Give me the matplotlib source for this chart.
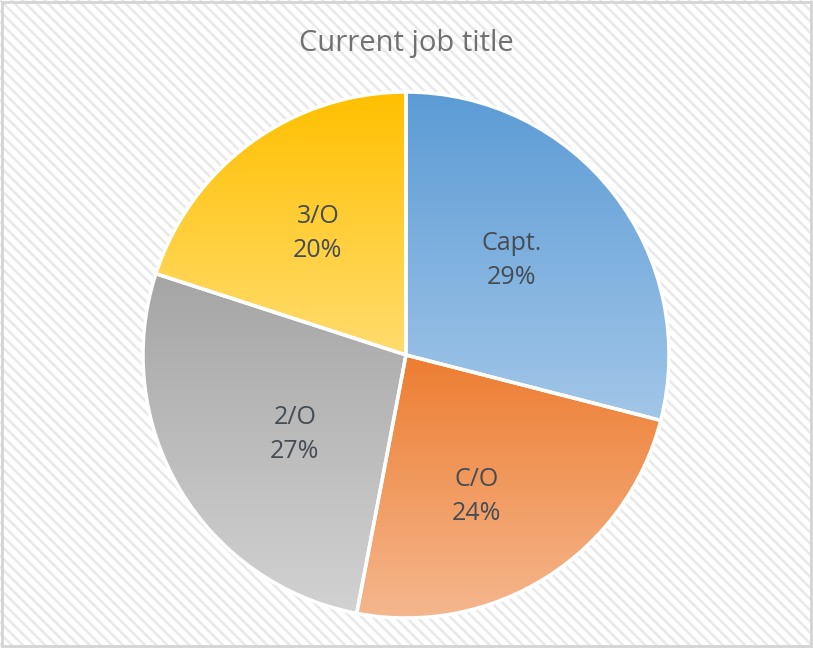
import numpy as np
import matplotlib.pyplot as plt
from matplotlib.patches import Rectangle
from matplotlib.colors import LinearSegmentedColormap

# job title shares (%)
titles = ["Capt.", "C/O", "2/O", "3/O"]
shares = [29, 24, 27, 20]
# top / bottom colours of each slice gradient
top_colors = ["#5B9BD5", "#ED7D31", "#A5A5A5", "#FFC000"]
bottom_colors = ["#A2C6E8", "#F5B78E", "#D2D2D2", "#FFDC6E"]
# label placement inside each slice: fraction of radius, angle shift (deg)
label_r = [0.54, 0.60, 0.52, 0.57]
label_shift = [4, -6, 5, 0]

plt.rcParams['font.family'] = ['Open Sans', 'DejaVu Sans']
plt.rcParams['hatch.linewidth'] = 1.8
plt.rcParams['hatch.color'] = '#e9e9e9'

W, H = 813, 648
fig = plt.figure(figsize=(W / 100, H / 100), dpi=100)
fig.patch.set_facecolor('white')

# striped chart area with a thin grey frame
fig.patches.append(Rectangle((0, 0), 1, 1, transform=fig.transFigure,
                             facecolor='white', hatch='\\\\\\', edgecolor='#e9e9e9',
                             linewidth=0, zorder=-5))
fig.patches.append(Rectangle((0.002, 0.003), 0.996, 0.994, transform=fig.transFigure,
                             facecolor='none', edgecolor='#d4d4d4', linewidth=2, zorder=5))

ax = fig.add_axes([0, 0, 1, 1])
ax.patch.set_visible(False)

cx, cy, R = 406, H - 355, 263
wedges, _ = ax.pie(shares, startangle=90, counterclock=False, center=(cx, cy),
                   radius=R, frame=True,
                   wedgeprops=dict(facecolor='none', edgecolor='white', linewidth=2.5))
ax.set_xlim(0, W)
ax.set_ylim(0, H)
ax.set_aspect('equal')
ax.axis('off')

grad = np.linspace(0, 1, 256).reshape(-1, 1)
for i, w in enumerate(wedges):
    w.set_zorder(3)
    ext = w.get_path().get_extents()
    cmap = LinearSegmentedColormap.from_list(titles[i], [top_colors[i], bottom_colors[i]])
    im = ax.imshow(grad, cmap=cmap, aspect='auto', origin='upper',
                   extent=[ext.x0, ext.x1, ext.y0, ext.y1], zorder=2)
    im.set_clip_path(w)
    # label inside the slice
    mid = np.deg2rad((w.theta1 + w.theta2) / 2 + label_shift[i])
    lx = cx + label_r[i] * R * np.cos(mid)
    ly = cy + label_r[i] * R * np.sin(mid)
    ax.text(lx, ly, f"{titles[i]}\n{shares[i]}%", ha='center', va='center',
            fontsize=18, color='#454c54', linespacing=1.5, zorder=4)

fig.text(0.5, 1 - 44 / H, "Current job title", ha='center', va='center',
         fontsize=21, color='#707070')

fig.savefig("out.png", dpi=100)
